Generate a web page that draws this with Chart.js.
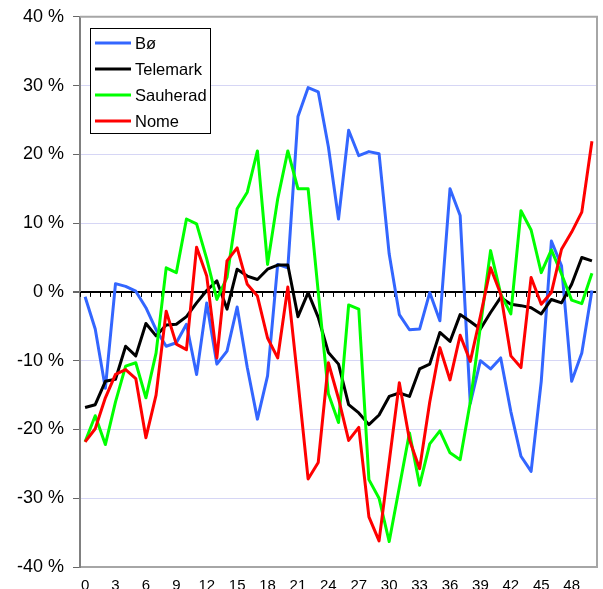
<!DOCTYPE html>
<html>
<head>
<meta charset="utf-8">
<script src="https://cdn.jsdelivr.net/npm/chart.js@4.4.0/dist/chart.umd.min.js"></script>
<style>
html, body { margin: 0; padding: 0; background: #fff; overflow: hidden; }
#wrap { width: 603px; height: 589px; overflow: hidden; }
#chart { display: block; margin-top: -3px; }
</style>
</head>
<body>
<div id="wrap"><canvas id="chart" width="603" height="608"></canvas></div>
<script>
const weeks = [0, 1, 2, 3, 4, 5, 6, 7, 8, 9, 10, 11, 12, 13, 14, 15, 16, 17, 18, 19, 20,
    21, 22, 23, 24, 25, 26, 27, 28, 29, 30, 31, 32, 33, 34, 35, 36, 37, 38, 39, 40,
    41, 42, 43, 44, 45, 46, 47, 48, 49, 50];
const tickLabels = [0, 3, 6, 9, 12, 15, 18, 21, 24, 27, 30, 33, 36, 39, 42, 45, 48];

const bo = [-0.7, -5.4, -14, 1.2, 0.8, 0.1, -2.3, -5.5, -7.9, -7.4, -4.7, -12, -1.6, -10.5, -8.6, -2.2,
    -11, -18.5, -12.2, 4.0, 3.5, 25.5, 29.7, 29.1, 21.1, 10.6, 23.5, 19.8, 20.4, 20.1, 5.5, -3.3,
    -5.5, -5.4, -0.1, -4.2, 15.0, 11.1, -16.2, -10, -11.2, -9.6, -17.4, -23.9, -26.1, -13, 7.4,
    3.8, -13, -8.9, 0.2];
const telemark = [-16.8, -16.4, -13, -12.7, -7.9, -9.3, -4.6, -6.4, -4.8, -4.7, -3.6, -1.6, 0.2, 1.6,
    -2.5, 3.3, 2.3, 1.8, 3.3, 3.9, 3.9, -3.6, -0.1, -3.7, -8.8, -10.5, -16.4, -17.6, -19.3, -17.9,
    -15.2, -14.7, -15.2, -11.2, -10.5, -5.9, -7.2, -3.3, -4.3, -5.4, -3.0, -0.8, -1.8, -2.0, -2.3,
    -3.2, -1.1, -1.6, 1.1, 5.0, 4.5];
const sauherad = [-21.8, -18, -22.2, -16, -10.8, -10.3, -15.4, -8.9, 3.5, 2.8, 10.6, 9.9, 4.8, -1.1,
    2.1, 12.1, 14.5, 20.5, 4.0, 13.5, 20.5, 15, 15, 0, -14.8, -19, -1.9, -2.5, -27.3, -30, -36.3,
    -28.4, -20.5, -28.1, -22.1, -20.2, -23.4, -24.4, -16, -5, 6, -0.3, -3.2, 11.8, 9, 2.8, 6.1,
    2.6, -1.2, -1.7, 2.7];
const nome = [-21.8, -19.9, -15.4, -12, -11.3, -12.6, -21.2, -15, -2.8, -7.6, -8.4, 6.5, 2.3, -9.6,
    4.5, 6.4, 1.1, -0.6, -6.7, -9.6, 0.7, -13, -27.2, -24.8, -10.3, -15.5, -21.6, -19.7, -32.7,
    -36.2, -24.7, -13.2, -21.5, -25.7, -16, -8.1, -12.8, -6.3, -10.1, -3.5, 3.5, -0.3, -9.3, -11,
    2.1, -1.8, -0.1, 6.2, 8.7, 11.6, 21.9];

const FONT = '"Liberation Sans", Arial, sans-serif';

// black zero line gets little category ticks hanging below it
const zeroAxis = {
    id: 'zeroAxis',
    beforeDatasetsDraw(chart) {
        const { ctx, scales: { x, y } } = chart;
        const y0 = y.getPixelForValue(0);
        const step = x.getPixelForValue(1) - x.getPixelForValue(0);
        ctx.save();
        ctx.strokeStyle = '#000';
        ctx.lineWidth = 1;
        ctx.beginPath();
        for (let i = 0; i <= weeks.length; i++) {
            const px = Math.round(x.getPixelForValue(0) - step / 2 + i * step) + 0.5;
            ctx.moveTo(px, y0);
            ctx.lineTo(px, y0 + 5);
        }
        ctx.stroke();
        ctx.restore();
    }
};

const frame = {
    id: 'frame',
    beforeDatasetsDraw(chart) {
        const { ctx, chartArea: a } = chart;
        ctx.save();
        ctx.strokeStyle = '#a6a6a6';
        ctx.lineWidth = 2;
        ctx.beginPath();
        ctx.moveTo(a.left, a.top);
        ctx.lineTo(a.right, a.top);
        ctx.lineTo(a.right, a.bottom);
        ctx.stroke();
        ctx.restore();
    }
};

const boxLegend = {
    id: 'boxLegend',
    afterDatasetsDraw(chart) {
        const { ctx, chartArea: a } = chart;
        const left = Math.round(a.left) + 10, top = Math.round(a.top) + 11;
        const w = 120, h = 105;
        ctx.save();
        ctx.fillStyle = '#fff';
        ctx.fillRect(left, top, w, h);
        ctx.strokeStyle = '#000';
        ctx.lineWidth = 1;
        ctx.strokeRect(left + 0.5, top + 0.5, w, h);
        ctx.font = '16.5px ' + FONT;
        ctx.textBaseline = 'middle';
        chart.data.datasets.forEach((ds, i) => {
            const cy = top + 15 + i * 26;
            ctx.strokeStyle = ds.borderColor;
            ctx.lineWidth = 3;
            ctx.beginPath();
            ctx.moveTo(left + 5, cy);
            ctx.lineTo(left + 41, cy);
            ctx.stroke();
            ctx.fillStyle = '#000';
            ctx.fillText(ds.label, left + 45, cy + 1);
        });
        ctx.restore();
    }
};

function series(label, data, color, order) {
    return {
        label: label,
        data: data,
        borderColor: color,
        backgroundColor: color,
        borderWidth: 3,
        pointRadius: 0,
        tension: 0,
        borderJoinStyle: 'round',
        order: order
    };
}

new Chart(document.getElementById('chart'), {
    type: 'line',
    data: {
        labels: weeks.map(String),
        datasets: [
            series('Bø', bo, '#3366ff', 4),
            series('Telemark', telemark, '#000000', 3),
            series('Sauherad', sauherad, '#00ff00', 2),
            series('Nome', nome, '#ff0000', 1)
        ]
    },
    options: {
        responsive: false,
        devicePixelRatio: 1,
        animation: false,
        events: [],
        layout: { padding: { left: 8, top: 0, right: 6, bottom: 0 } },
        plugins: {
            legend: { display: false },
            tooltip: { enabled: false }
        },
        scales: {
            x: {
                offset: true,
                grid: { display: false, drawTicks: false },
                border: { display: true, color: '#a6a6a6', width: 2 },
                ticks: {
                    autoSkip: false,
                    maxRotation: 0,
                    padding: 10,
                    color: '#000',
                    font: { family: FONT, size: 15 },
                    callback: (v, i) => tickLabels.includes(weeks[i]) ? String(weeks[i]) : ''
                }
            },
            y: {
                min: -40,
                max: 40,
                grid: {
                    color: c => c.tick && c.tick.value === 0 ? '#000' : '#d6d6f5',
                    lineWidth: c => c.tick && c.tick.value === 0 ? 2 : 1,
                    tickLength: 7,
                    tickColor: '#666'
                },
                border: { display: true, color: '#808080', width: 2 },
                ticks: {
                    stepSize: 10,
                    padding: 9,
                    color: '#000',
                    font: { family: FONT, size: 18 },
                    callback: v => v + ' %'
                }
            }
        }
    },
    plugins: [zeroAxis, frame, boxLegend]
});
</script>
</body>
</html>
